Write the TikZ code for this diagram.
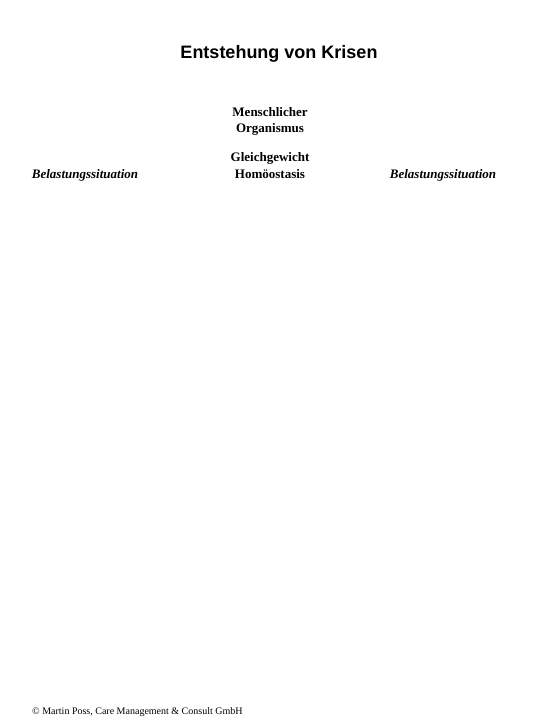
\documentclass[tikz,border=0pt]{standalone}
\usepackage{fontspec}
\setmainfont{Liberation Serif}
\newfontfamily\titlefont{Liberation Sans}
\begin{document}
\begin{tikzpicture}[x=1pt,y=1pt,
  titlestyle/.style={anchor=base,inner sep=0pt,font=\titlefont\bfseries\fontsize{18}{21}\selectfont},
  centerstyle/.style={anchor=base,inner sep=0pt,font=\bfseries\fontsize{13}{15}\selectfont},
  loadstyle/.style={anchor=base,inner sep=0pt,font=\bfseries\itshape\fontsize{13}{15}\selectfont},
  footstyle/.style={anchor=base west,inner sep=0pt,font=\fontsize{10}{12}\selectfont}]
\useasboundingbox[fill=white] (0,0) rectangle (540,-720);
\node[titlestyle] (title) at (279,-58) {Entstehung von Krisen};
\node[centerstyle] (mensch) at (270,-116) {Menschlicher};
\node[centerstyle] (organ) at (270,-132) {Organismus};
\node[centerstyle] (gleich) at (270,-161) {Gleichgewicht};
\node[centerstyle] (homoe) at (270,-178) {Homöostasis};
\node[loadstyle] (belL) at (85,-178) {Belastungssituation};
\node[loadstyle] (belR) at (443,-178) {Belastungssituation};
\node[footstyle] (foot) at (32,-714) {© Martin Poss, Care Management \& Consult GmbH};
\end{tikzpicture}
\end{document}
